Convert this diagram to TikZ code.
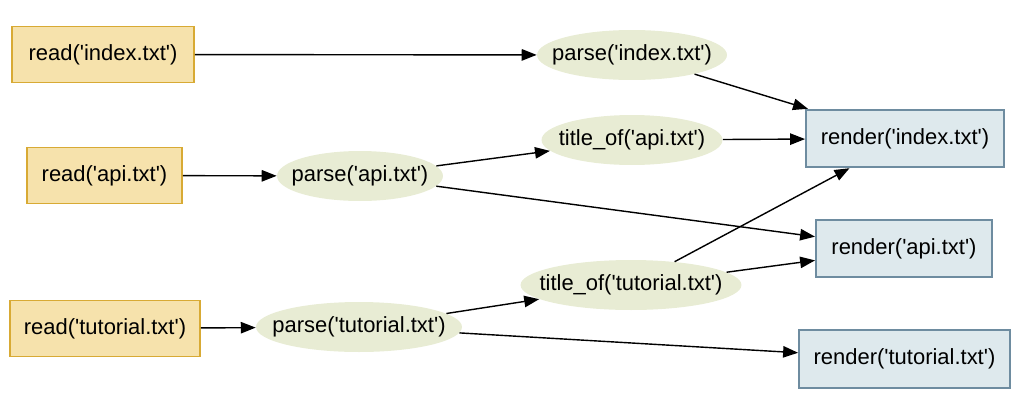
\documentclass[tikz,border=0pt]{standalone}
\usepackage{fontspec}
\setmainfont{Liberation Sans}
\usepackage{xcolor}
\usetikzlibrary{arrows.meta, shapes.geometric}

\definecolor{readfill}{RGB}{246,226,172}
\definecolor{readline}{RGB}{216,170,52}
\definecolor{parsefill}{RGB}{232,236,212}
\definecolor{renderfill}{RGB}{222,233,237}
\definecolor{renderline}{RGB}{110,140,160}

\newcommand{\sq}{\textquotesingle}
\newcommand{\flatlabel}[1]{\makebox[0pt]{#1}}

\begin{document}
\begin{tikzpicture}[x=0.02cm, y=-0.02cm,
    readbox/.style={rectangle, draw=readline, fill=readfill, line width=1.1pt,
                    minimum height=1.12cm, inner sep=0pt, font=\fontsize{12.5}{15}\selectfont},
    parsenode/.style={ellipse, fill=parsefill, minimum height=1.0cm,
                    inner sep=0pt, font=\fontsize{12.5}{15}\selectfont},
    renderbox/.style={rectangle, draw=renderline, fill=renderfill, line width=1.1pt,
                    minimum height=1.15cm, inner sep=0pt, font=\fontsize{12.5}{15}\selectfont},
    arrow/.style={-{Triangle[length=8.5pt, width=6.5pt]}, line width=0.8pt}
  ]
  \useasboundingbox (0,0) rectangle (1024,403);

  % sources
  \node[readbox, minimum width=3.64cm] (ri) at (103,54.5)  {read(\sq index.txt\sq)};
  \node[readbox, minimum width=3.10cm] (ra) at (104.5,175.5) {read(\sq api.txt\sq)};
  \node[readbox, minimum width=3.80cm] (rt) at (105,328.5) {read(\sq tutorial.txt\sq)};

  % parse / title_of
  \node[parsenode, minimum width=3.80cm] (pi) at (632,55)  {\flatlabel{parse(\sq index.txt\sq)}};
  \node[parsenode, minimum width=3.32cm] (pa) at (360,176) {\flatlabel{parse(\sq api.txt\sq)}};
  \node[parsenode, minimum width=4.12cm] (pt) at (359,327) {\flatlabel{parse(\sq tutorial.txt\sq)}};
  \node[parsenode, minimum width=3.62cm] (ta) at (632,140) {\flatlabel{title\_of(\sq api.txt\sq)}};
  \node[parsenode, minimum width=4.42cm] (tt) at (631,285) {\flatlabel{title\_of(\sq tutorial.txt\sq)}};

  % outputs
  \node[renderbox, minimum width=3.96cm] (ni) at (905,138.5) {render(\sq index.txt\sq)};
  \node[renderbox, minimum width=3.52cm] (na) at (904,248.5) {render(\sq api.txt\sq)};
  \node[renderbox, minimum width=4.22cm] (nt) at (904.5,359) {render(\sq tutorial.txt\sq)};

  \draw[arrow] (ri) -- (pi);
  \draw[arrow] (ra) -- (pa);
  \draw[arrow] (rt) -- (pt);
  \draw[arrow] (pa) -- (ta);
  \draw[arrow] (pt) -- (tt);
  \draw[arrow] (pi) -- (ni);
  \draw[arrow] (ta) -- (ni);
  \draw[arrow] (tt) -- (ni);
  \draw[arrow] (pa) -- (na);
  \draw[arrow] (tt) -- (na);
  \draw[arrow] (pt) -- (nt);
\end{tikzpicture}
\end{document}
